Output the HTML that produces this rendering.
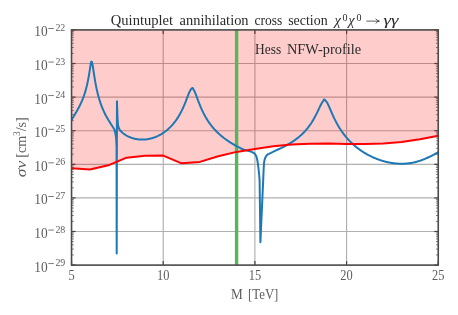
<!DOCTYPE html>
<html><head><meta charset="utf-8"><title>chart</title>
<style>
html,body{margin:0;padding:0;background:#fff;}
body{width:458px;height:315px;overflow:hidden;font-family:"Liberation Serif",serif;}
svg{display:block;will-change:transform;}
text{font-family:"Liberation Serif",serif;}
</style></head><body>
<svg width="458" height="315" viewBox="0 0 458 315">
<g stroke="#b0b0b0" stroke-width="1.15" fill="none"><line x1="163.22" y1="29.90" x2="163.22" y2="265.10"/><line x1="254.90" y1="29.90" x2="254.90" y2="265.10"/><line x1="346.57" y1="29.90" x2="346.57" y2="265.10"/><line x1="71.55" y1="231.50" x2="438.25" y2="231.50"/><line x1="71.55" y1="197.90" x2="438.25" y2="197.90"/><line x1="71.55" y1="164.30" x2="438.25" y2="164.30"/><line x1="71.55" y1="130.70" x2="438.25" y2="130.70"/><line x1="71.55" y1="97.10" x2="438.25" y2="97.10"/><line x1="71.55" y1="63.50" x2="438.25" y2="63.50"/></g>
<g stroke="#444444" stroke-width="1.2" fill="none"><line x1="71.55" y1="265.10" x2="71.55" y2="261.10"/><line x1="71.55" y1="29.90" x2="71.55" y2="33.90"/><line x1="163.22" y1="265.10" x2="163.22" y2="261.10"/><line x1="163.22" y1="29.90" x2="163.22" y2="33.90"/><line x1="254.90" y1="265.10" x2="254.90" y2="261.10"/><line x1="254.90" y1="29.90" x2="254.90" y2="33.90"/><line x1="346.57" y1="265.10" x2="346.57" y2="261.10"/><line x1="346.57" y1="29.90" x2="346.57" y2="33.90"/><line x1="438.25" y1="265.10" x2="438.25" y2="261.10"/><line x1="438.25" y1="29.90" x2="438.25" y2="33.90"/><line x1="71.55" y1="265.10" x2="75.55" y2="265.10"/><line x1="438.25" y1="265.10" x2="434.25" y2="265.10"/><line x1="71.55" y1="231.50" x2="75.55" y2="231.50"/><line x1="438.25" y1="231.50" x2="434.25" y2="231.50"/><line x1="71.55" y1="197.90" x2="75.55" y2="197.90"/><line x1="438.25" y1="197.90" x2="434.25" y2="197.90"/><line x1="71.55" y1="164.30" x2="75.55" y2="164.30"/><line x1="438.25" y1="164.30" x2="434.25" y2="164.30"/><line x1="71.55" y1="130.70" x2="75.55" y2="130.70"/><line x1="438.25" y1="130.70" x2="434.25" y2="130.70"/><line x1="71.55" y1="97.10" x2="75.55" y2="97.10"/><line x1="438.25" y1="97.10" x2="434.25" y2="97.10"/><line x1="71.55" y1="63.50" x2="75.55" y2="63.50"/><line x1="438.25" y1="63.50" x2="434.25" y2="63.50"/><line x1="71.55" y1="29.90" x2="75.55" y2="29.90"/><line x1="438.25" y1="29.90" x2="434.25" y2="29.90"/></g>
<g stroke="#4a4a4a" stroke-width="0.7" fill="none"><line x1="71.55" y1="254.99" x2="73.85" y2="254.99"/><line x1="438.25" y1="254.99" x2="435.95" y2="254.99"/><line x1="71.55" y1="249.07" x2="73.85" y2="249.07"/><line x1="438.25" y1="249.07" x2="435.95" y2="249.07"/><line x1="71.55" y1="244.87" x2="73.85" y2="244.87"/><line x1="438.25" y1="244.87" x2="435.95" y2="244.87"/><line x1="71.55" y1="241.61" x2="73.85" y2="241.61"/><line x1="438.25" y1="241.61" x2="435.95" y2="241.61"/><line x1="71.55" y1="238.95" x2="73.85" y2="238.95"/><line x1="438.25" y1="238.95" x2="435.95" y2="238.95"/><line x1="71.55" y1="236.70" x2="73.85" y2="236.70"/><line x1="438.25" y1="236.70" x2="435.95" y2="236.70"/><line x1="71.55" y1="234.76" x2="73.85" y2="234.76"/><line x1="438.25" y1="234.76" x2="435.95" y2="234.76"/><line x1="71.55" y1="233.04" x2="73.85" y2="233.04"/><line x1="438.25" y1="233.04" x2="435.95" y2="233.04"/><line x1="71.55" y1="221.39" x2="73.85" y2="221.39"/><line x1="438.25" y1="221.39" x2="435.95" y2="221.39"/><line x1="71.55" y1="215.47" x2="73.85" y2="215.47"/><line x1="438.25" y1="215.47" x2="435.95" y2="215.47"/><line x1="71.55" y1="211.27" x2="73.85" y2="211.27"/><line x1="438.25" y1="211.27" x2="435.95" y2="211.27"/><line x1="71.55" y1="208.01" x2="73.85" y2="208.01"/><line x1="438.25" y1="208.01" x2="435.95" y2="208.01"/><line x1="71.55" y1="205.35" x2="73.85" y2="205.35"/><line x1="438.25" y1="205.35" x2="435.95" y2="205.35"/><line x1="71.55" y1="203.10" x2="73.85" y2="203.10"/><line x1="438.25" y1="203.10" x2="435.95" y2="203.10"/><line x1="71.55" y1="201.16" x2="73.85" y2="201.16"/><line x1="438.25" y1="201.16" x2="435.95" y2="201.16"/><line x1="71.55" y1="199.44" x2="73.85" y2="199.44"/><line x1="438.25" y1="199.44" x2="435.95" y2="199.44"/><line x1="71.55" y1="187.79" x2="73.85" y2="187.79"/><line x1="438.25" y1="187.79" x2="435.95" y2="187.79"/><line x1="71.55" y1="181.87" x2="73.85" y2="181.87"/><line x1="438.25" y1="181.87" x2="435.95" y2="181.87"/><line x1="71.55" y1="177.67" x2="73.85" y2="177.67"/><line x1="438.25" y1="177.67" x2="435.95" y2="177.67"/><line x1="71.55" y1="174.41" x2="73.85" y2="174.41"/><line x1="438.25" y1="174.41" x2="435.95" y2="174.41"/><line x1="71.55" y1="171.75" x2="73.85" y2="171.75"/><line x1="438.25" y1="171.75" x2="435.95" y2="171.75"/><line x1="71.55" y1="169.50" x2="73.85" y2="169.50"/><line x1="438.25" y1="169.50" x2="435.95" y2="169.50"/><line x1="71.55" y1="167.56" x2="73.85" y2="167.56"/><line x1="438.25" y1="167.56" x2="435.95" y2="167.56"/><line x1="71.55" y1="165.84" x2="73.85" y2="165.84"/><line x1="438.25" y1="165.84" x2="435.95" y2="165.84"/><line x1="71.55" y1="154.19" x2="73.85" y2="154.19"/><line x1="438.25" y1="154.19" x2="435.95" y2="154.19"/><line x1="71.55" y1="148.27" x2="73.85" y2="148.27"/><line x1="438.25" y1="148.27" x2="435.95" y2="148.27"/><line x1="71.55" y1="144.07" x2="73.85" y2="144.07"/><line x1="438.25" y1="144.07" x2="435.95" y2="144.07"/><line x1="71.55" y1="140.81" x2="73.85" y2="140.81"/><line x1="438.25" y1="140.81" x2="435.95" y2="140.81"/><line x1="71.55" y1="138.15" x2="73.85" y2="138.15"/><line x1="438.25" y1="138.15" x2="435.95" y2="138.15"/><line x1="71.55" y1="135.90" x2="73.85" y2="135.90"/><line x1="438.25" y1="135.90" x2="435.95" y2="135.90"/><line x1="71.55" y1="133.96" x2="73.85" y2="133.96"/><line x1="438.25" y1="133.96" x2="435.95" y2="133.96"/><line x1="71.55" y1="132.24" x2="73.85" y2="132.24"/><line x1="438.25" y1="132.24" x2="435.95" y2="132.24"/><line x1="71.55" y1="120.59" x2="73.85" y2="120.59"/><line x1="438.25" y1="120.59" x2="435.95" y2="120.59"/><line x1="71.55" y1="114.67" x2="73.85" y2="114.67"/><line x1="438.25" y1="114.67" x2="435.95" y2="114.67"/><line x1="71.55" y1="110.47" x2="73.85" y2="110.47"/><line x1="438.25" y1="110.47" x2="435.95" y2="110.47"/><line x1="71.55" y1="107.21" x2="73.85" y2="107.21"/><line x1="438.25" y1="107.21" x2="435.95" y2="107.21"/><line x1="71.55" y1="104.55" x2="73.85" y2="104.55"/><line x1="438.25" y1="104.55" x2="435.95" y2="104.55"/><line x1="71.55" y1="102.30" x2="73.85" y2="102.30"/><line x1="438.25" y1="102.30" x2="435.95" y2="102.30"/><line x1="71.55" y1="100.36" x2="73.85" y2="100.36"/><line x1="438.25" y1="100.36" x2="435.95" y2="100.36"/><line x1="71.55" y1="98.64" x2="73.85" y2="98.64"/><line x1="438.25" y1="98.64" x2="435.95" y2="98.64"/><line x1="71.55" y1="86.99" x2="73.85" y2="86.99"/><line x1="438.25" y1="86.99" x2="435.95" y2="86.99"/><line x1="71.55" y1="81.07" x2="73.85" y2="81.07"/><line x1="438.25" y1="81.07" x2="435.95" y2="81.07"/><line x1="71.55" y1="76.87" x2="73.85" y2="76.87"/><line x1="438.25" y1="76.87" x2="435.95" y2="76.87"/><line x1="71.55" y1="73.61" x2="73.85" y2="73.61"/><line x1="438.25" y1="73.61" x2="435.95" y2="73.61"/><line x1="71.55" y1="70.95" x2="73.85" y2="70.95"/><line x1="438.25" y1="70.95" x2="435.95" y2="70.95"/><line x1="71.55" y1="68.70" x2="73.85" y2="68.70"/><line x1="438.25" y1="68.70" x2="435.95" y2="68.70"/><line x1="71.55" y1="66.76" x2="73.85" y2="66.76"/><line x1="438.25" y1="66.76" x2="435.95" y2="66.76"/><line x1="71.55" y1="65.04" x2="73.85" y2="65.04"/><line x1="438.25" y1="65.04" x2="435.95" y2="65.04"/><line x1="71.55" y1="53.39" x2="73.85" y2="53.39"/><line x1="438.25" y1="53.39" x2="435.95" y2="53.39"/><line x1="71.55" y1="47.47" x2="73.85" y2="47.47"/><line x1="438.25" y1="47.47" x2="435.95" y2="47.47"/><line x1="71.55" y1="43.27" x2="73.85" y2="43.27"/><line x1="438.25" y1="43.27" x2="435.95" y2="43.27"/><line x1="71.55" y1="40.01" x2="73.85" y2="40.01"/><line x1="438.25" y1="40.01" x2="435.95" y2="40.01"/><line x1="71.55" y1="37.35" x2="73.85" y2="37.35"/><line x1="438.25" y1="37.35" x2="435.95" y2="37.35"/><line x1="71.55" y1="35.10" x2="73.85" y2="35.10"/><line x1="438.25" y1="35.10" x2="435.95" y2="35.10"/><line x1="71.55" y1="33.16" x2="73.85" y2="33.16"/><line x1="438.25" y1="33.16" x2="435.95" y2="33.16"/><line x1="71.55" y1="31.44" x2="73.85" y2="31.44"/><line x1="438.25" y1="31.44" x2="435.95" y2="31.44"/></g>
<path d="M71.55,168.30 L89.88,169.50 L108.22,165.30 L126.55,157.70 L144.89,155.70 L163.22,155.60 L181.56,163.30 L199.89,161.90 L218.23,156.20 L236.56,151.90 L254.90,149.00 L273.24,146.30 L291.57,144.40 L309.90,143.70 L328.24,143.50 L346.57,143.90 L364.91,144.00 L383.25,143.40 L401.58,142.00 L419.91,139.30 L438.25,135.70 L438.25,29.90 L71.55,29.90 Z" fill="#ff0000" fill-opacity="0.2" stroke="none"/>
<line x1="236.6" y1="29.9" x2="236.6" y2="265.1" stroke="#5ab55a" stroke-width="3.4"/>
<path d="M71.70,119.81 L72.20,118.95 L72.70,118.10 L73.20,117.25 L73.70,116.40 L74.20,115.56 L74.70,114.71 L75.20,113.86 L75.70,113.01 L76.20,112.15 L76.70,111.28 L77.20,110.40 L77.70,109.51 L78.20,108.60 L78.70,107.67 L79.20,106.72 L79.70,105.74 L80.20,104.73 L80.70,103.69 L81.20,102.61 L81.70,101.49 L82.20,100.32 L82.70,99.10 L83.20,97.82 L83.70,96.47 L84.20,95.04 L84.70,93.53 L85.20,91.92 L85.70,90.20 L86.20,88.36 L86.70,86.37 L87.20,84.22 L87.70,81.89 L88.20,79.36 L88.70,76.62 L89.20,73.67 L89.70,70.55 L90.20,67.42 L91.15,61.75 L91.85,61.75 L92.70,65.51 L93.20,68.68 L93.70,72.09 L94.20,75.45 L94.70,78.63 L95.20,81.59 L95.70,84.34 L96.20,86.89 L96.70,89.26 L97.20,91.46 L97.70,93.52 L98.20,95.45 L98.70,97.27 L99.20,98.98 L99.70,100.60 L100.20,102.13 L100.70,103.59 L101.20,104.99 L101.70,106.32 L102.20,107.59 L102.70,108.81 L103.20,109.98 L103.70,111.10 L104.20,112.19 L104.70,113.24 L105.20,114.25 L105.70,115.22 L106.20,116.17 L106.70,117.09 L107.20,117.98 L107.70,118.85 L108.20,119.69 L108.70,120.52 L109.20,121.32 L109.70,122.12 L110.20,122.90 L110.70,123.67 L111.20,124.43 L111.70,125.20 L112.20,125.98 L112.70,126.78 L113.00,127.27 L114.30,129.20 L115.30,133.00 L116.10,137.50 L116.55,147.00 L116.70,253.50 L116.95,101.20 L117.60,120.20 L118.10,125.50 L119.00,128.60 L120.00,130.30 L121.00,131.32 L121.50,131.84 L122.00,132.32 L122.50,132.76 L123.00,133.18 L123.50,133.57 L124.00,133.94 L124.50,134.29 L125.00,134.63 L125.50,134.94 L126.00,135.25 L126.50,135.54 L127.00,135.81 L127.50,136.08 L128.00,136.33 L128.50,136.57 L129.00,136.80 L129.50,137.02 L130.00,137.23 L130.50,137.43 L131.00,137.62 L131.50,137.80 L132.00,137.97 L132.50,138.13 L133.00,138.28 L133.50,138.42 L134.00,138.56 L134.50,138.68 L135.00,138.80 L135.50,138.91 L136.00,139.01 L136.50,139.10 L137.00,139.18 L137.50,139.26 L138.00,139.33 L138.50,139.39 L139.00,139.44 L139.50,139.49 L140.00,139.52 L140.50,139.55 L141.00,139.58 L141.50,139.59 L142.00,139.60 L142.50,139.60 L143.00,139.59 L143.50,139.58 L144.00,139.55 L144.50,139.52 L145.00,139.49 L145.50,139.44 L146.00,139.39 L146.50,139.33 L147.00,139.26 L147.50,139.19 L148.00,139.11 L148.50,139.02 L149.00,138.93 L149.50,138.82 L150.00,138.71 L150.50,138.60 L151.00,138.47 L151.50,138.34 L152.00,138.20 L152.50,138.05 L153.00,137.90 L153.50,137.73 L154.00,137.56 L154.50,137.38 L155.00,137.20 L155.50,137.00 L156.00,136.80 L156.50,136.59 L157.00,136.37 L157.50,136.15 L158.00,135.91 L158.50,135.67 L159.00,135.42 L159.50,135.16 L160.00,134.89 L160.50,134.61 L161.00,134.33 L161.50,134.03 L162.00,133.72 L162.50,133.41 L163.00,133.08 L163.50,132.75 L164.00,132.41 L164.50,132.05 L165.00,131.68 L165.50,131.31 L166.00,130.92 L166.50,130.52 L167.00,130.11 L167.50,129.69 L168.00,129.26 L168.50,128.81 L169.00,128.35 L169.50,127.88 L170.00,127.39 L170.50,126.89 L171.00,126.38 L171.50,125.85 L172.00,125.30 L172.50,124.74 L173.00,124.17 L173.50,123.57 L174.00,122.96 L174.50,122.33 L175.00,121.68 L175.50,121.01 L176.00,120.32 L176.50,119.61 L177.00,118.88 L177.50,118.12 L178.00,117.34 L178.50,116.54 L179.00,115.71 L179.50,114.85 L180.00,113.96 L180.50,113.04 L181.00,112.10 L181.50,111.12 L182.00,110.11 L182.50,109.06 L183.00,107.98 L183.50,106.87 L184.00,105.72 L184.50,104.53 L185.00,103.31 L185.50,102.06 L186.00,100.78 L186.50,99.48 L187.00,98.16 L187.50,96.83 L188.00,95.52 L188.50,94.23 L189.00,93.00 L189.50,91.85 L190.00,90.81 L190.50,89.93 L191.00,89.24 L191.50,88.78 L192.05,88.05 L192.75,88.05 L193.50,89.53 L194.00,90.32 L194.50,91.29 L195.00,92.40 L195.50,93.61 L196.00,94.90 L196.50,96.23 L197.00,97.58 L197.50,98.93 L198.00,100.28 L198.50,101.61 L199.00,102.91 L199.50,104.18 L200.00,105.42 L200.50,106.63 L201.00,107.80 L201.50,108.94 L202.00,110.04 L202.50,111.11 L203.00,112.15 L203.50,113.15 L204.00,114.13 L204.50,115.07 L205.00,115.99 L205.50,116.88 L206.00,117.74 L206.50,118.58 L207.00,119.39 L207.50,120.19 L208.00,120.96 L208.50,121.71 L209.00,122.44 L209.50,123.15 L210.00,123.84 L210.50,124.52 L211.00,125.17 L211.50,125.82 L212.00,126.44 L212.50,127.05 L213.00,127.65 L213.50,128.24 L214.00,128.81 L214.50,129.36 L215.00,129.91 L215.50,130.44 L216.00,130.97 L216.50,131.48 L217.00,131.98 L217.50,132.47 L218.00,132.95 L218.50,133.42 L219.00,133.88 L219.50,134.34 L220.00,134.78 L220.50,135.22 L221.00,135.65 L221.50,136.07 L222.00,136.48 L222.50,136.89 L223.00,137.29 L223.50,137.68 L224.00,138.07 L224.50,138.44 L225.00,138.82 L225.50,139.18 L226.00,139.55 L226.50,139.90 L227.00,140.25 L227.50,140.60 L228.00,140.94 L228.50,141.27 L229.00,141.60 L229.50,141.93 L230.00,142.25 L230.50,142.57 L231.00,142.88 L231.50,143.19 L232.00,143.50 L232.50,143.80 L233.00,144.09 L233.50,144.39 L234.00,144.68 L234.50,144.97 L235.00,145.26 L235.50,145.54 L236.00,145.82 L236.50,146.10 L237.00,146.37 L237.50,146.64 L238.00,146.92 L238.50,147.19 L239.00,147.45 L239.50,147.72 L240.00,147.99 L240.50,148.25 L241.00,148.51 L244.00,149.60 L247.90,150.70 L251.00,151.60 L253.60,152.80 L255.20,154.30 L256.40,156.60 L257.20,159.50 L257.80,163.10 L258.60,169.50 L259.30,176.40 L259.60,180.00 L260.40,242.20 L263.20,180.00 L263.60,170.00 L264.00,163.10 L264.60,159.80 L265.40,157.40 L266.50,155.50 L267.90,154.20 L269.00,153.89 L269.50,153.61 L270.00,153.34 L270.50,153.08 L271.00,152.82 L271.50,152.57 L272.00,152.32 L272.50,152.07 L273.00,151.83 L273.50,151.59 L274.00,151.35 L274.50,151.12 L275.00,150.88 L275.50,150.65 L276.00,150.42 L276.50,150.19 L277.00,149.95 L277.50,149.72 L278.00,149.49 L278.50,149.25 L279.00,149.02 L279.50,148.78 L280.00,148.55 L280.50,148.31 L281.00,148.07 L281.50,147.82 L282.00,147.58 L282.50,147.33 L283.00,147.08 L283.50,146.83 L284.00,146.58 L284.50,146.32 L285.00,146.06 L285.50,145.80 L286.00,145.53 L286.50,145.26 L287.00,144.99 L287.50,144.71 L288.00,144.43 L288.50,144.14 L289.00,143.85 L289.50,143.56 L290.00,143.26 L290.50,142.96 L291.00,142.65 L291.50,142.34 L292.00,142.02 L292.50,141.70 L293.00,141.37 L293.50,141.03 L294.00,140.69 L294.50,140.34 L295.00,139.99 L295.50,139.63 L296.00,139.26 L296.50,138.89 L297.00,138.51 L297.50,138.12 L298.00,137.72 L298.50,137.31 L299.00,136.90 L299.50,136.48 L300.00,136.05 L300.50,135.61 L301.00,135.16 L301.50,134.70 L302.00,134.23 L302.50,133.75 L303.00,133.26 L303.50,132.75 L304.00,132.24 L304.50,131.71 L305.00,131.17 L305.50,130.62 L306.00,130.05 L306.50,129.47 L307.00,128.87 L307.50,128.26 L308.00,127.63 L308.50,126.98 L309.00,126.32 L309.50,125.64 L310.00,124.94 L310.50,124.22 L311.00,123.48 L311.50,122.73 L312.00,121.94 L312.50,121.14 L313.00,120.31 L313.50,119.46 L314.00,118.59 L314.50,117.69 L315.00,116.77 L315.50,115.83 L316.00,114.86 L316.50,113.86 L317.00,112.85 L317.50,111.81 L318.00,110.76 L318.50,109.70 L319.00,108.64 L319.50,107.57 L320.00,106.52 L320.50,105.49 L321.00,104.50 L321.50,103.57 L322.00,102.72 L322.50,101.97 L323.00,101.34 L323.95,99.55 L324.65,99.55 L325.50,100.74 L326.00,101.17 L326.50,101.77 L327.00,102.51 L327.50,103.37 L328.00,104.34 L328.50,105.38 L329.00,106.47 L329.50,107.61 L330.00,108.76 L330.50,109.93 L331.00,111.10 L331.50,112.26 L332.00,113.41 L332.50,114.54 L333.00,115.65 L333.50,116.74 L334.00,117.81 L334.50,118.85 L335.00,119.87 L335.50,120.86 L336.00,121.83 L336.50,122.78 L337.00,123.70 L337.50,124.60 L338.00,125.47 L338.50,126.33 L339.00,127.16 L339.50,127.97 L340.00,128.76 L340.50,129.54 L341.00,130.29 L341.50,131.03 L342.00,131.75 L342.50,132.45 L343.00,133.14 L343.50,133.81 L344.00,134.47 L344.50,135.11 L345.00,135.74 L345.50,136.36 L346.00,136.96 L346.50,137.55 L347.00,138.13 L347.50,138.69 L348.00,139.25 L348.50,139.79 L349.00,140.33 L349.50,140.85 L350.00,141.36 L350.50,141.87 L351.00,142.36 L351.50,142.84 L352.00,143.32 L352.50,143.79 L353.00,144.24 L353.50,144.69 L354.00,145.14 L354.50,145.57 L355.00,146.00 L355.50,146.42 L356.00,146.83 L356.50,147.23 L357.00,147.63 L357.50,148.02 L358.00,148.40 L358.50,148.78 L359.00,149.15 L359.50,149.52 L360.00,149.88 L360.50,150.23 L361.00,150.57 L361.50,150.92 L362.00,151.25 L362.50,151.58 L363.00,151.90 L363.50,152.22 L364.00,152.53 L364.50,152.84 L365.00,153.14 L365.50,153.44 L366.00,153.73 L366.50,154.02 L367.00,154.30 L367.50,154.58 L368.00,154.85 L368.50,155.12 L369.00,155.38 L369.50,155.64 L370.00,155.90 L370.50,156.15 L371.00,156.39 L371.50,156.63 L372.00,156.87 L372.50,157.10 L373.00,157.33 L373.50,157.55 L374.00,157.77 L374.50,157.98 L375.00,158.19 L375.50,158.40 L376.00,158.60 L376.50,158.80 L377.00,159.00 L377.50,159.19 L378.00,159.37 L378.50,159.55 L379.00,159.73 L379.50,159.91 L380.00,160.08 L380.50,160.24 L381.00,160.41 L381.50,160.56 L382.00,160.72 L382.50,160.87 L383.00,161.02 L383.50,161.16 L384.00,161.30 L384.50,161.43 L385.00,161.57 L385.50,161.69 L386.00,161.82 L386.50,161.94 L387.00,162.05 L387.50,162.17 L388.00,162.27 L388.50,162.38 L389.00,162.48 L389.50,162.58 L390.00,162.67 L390.50,162.76 L391.00,162.85 L391.50,162.93 L392.00,163.01 L392.50,163.08 L393.00,163.15 L393.50,163.22 L394.00,163.28 L394.50,163.34 L395.00,163.39 L395.50,163.44 L396.00,163.49 L396.50,163.53 L397.00,163.57 L397.50,163.61 L398.00,163.64 L398.50,163.67 L399.00,163.69 L399.50,163.71 L400.00,163.72 L400.50,163.73 L401.00,163.74 L401.50,163.74 L402.00,163.74 L402.50,163.74 L403.00,163.73 L403.50,163.71 L404.00,163.69 L404.50,163.67 L405.00,163.65 L405.50,163.61 L406.00,163.58 L406.50,163.54 L407.00,163.50 L407.50,163.45 L408.00,163.39 L408.50,163.34 L409.00,163.28 L409.50,163.21 L410.00,163.14 L410.50,163.06 L411.00,162.98 L411.50,162.90 L412.00,162.81 L412.50,162.72 L413.00,162.62 L413.50,162.52 L414.00,162.41 L414.50,162.30 L415.00,162.18 L415.50,162.06 L416.00,161.93 L416.50,161.80 L417.00,161.66 L417.50,161.52 L418.00,161.38 L418.50,161.23 L419.00,161.07 L419.50,160.91 L420.00,160.75 L420.50,160.58 L421.00,160.41 L421.50,160.23 L422.00,160.05 L422.50,159.86 L423.00,159.67 L423.50,159.47 L424.00,159.27 L424.50,159.06 L425.00,158.85 L425.50,158.64 L426.00,158.42 L426.50,158.20 L427.00,157.97 L427.50,157.74 L428.00,157.51 L428.50,157.28 L429.00,157.04 L429.50,156.79 L430.00,156.55 L430.50,156.30 L431.00,156.05 L431.50,155.80 L432.00,155.54 L432.50,155.29 L433.00,155.03 L433.50,154.77 L434.00,154.52 L434.50,154.26 L435.00,154.01 L435.50,153.75 L436.00,153.50 L436.50,153.25 L437.00,153.00 L437.50,152.76 L438.00,152.52 L438.50,152.29 L438.60,152.24" fill="none" stroke="#1f77b4" stroke-width="2.0" stroke-linejoin="round" stroke-linecap="butt"/>
<path d="M71.55,168.30 L89.88,169.50 L108.22,165.30 L126.55,157.70 L144.89,155.70 L163.22,155.60 L181.56,163.30 L199.89,161.90 L218.23,156.20 L236.56,151.90 L254.90,149.00 L273.24,146.30 L291.57,144.40 L309.90,143.70 L328.24,143.50 L346.57,143.90 L364.91,144.00 L383.25,143.40 L401.58,142.00 L419.91,139.30 L438.25,135.70" fill="none" stroke="#ff0000" stroke-width="2.0" stroke-linejoin="round" stroke-linecap="butt"/>
<rect x="71.55" y="29.9" width="366.70" height="235.20" fill="none" stroke="#4a4a4a" stroke-width="1.6"/>
<g fill="#5e5e5e" ><text x="47.6" y="271.60" text-anchor="end" font-size="14.8" textLength="13.4" lengthAdjust="spacingAndGlyphs">10</text><rect x="48.3" y="263.25" width="5.6" height="0.8"/><text x="55.4" y="266.20" font-size="11.4" textLength="9.9" lengthAdjust="spacingAndGlyphs">29</text><text x="47.6" y="238.00" text-anchor="end" font-size="14.8" textLength="13.4" lengthAdjust="spacingAndGlyphs">10</text><rect x="48.3" y="229.65" width="5.6" height="0.8"/><text x="55.4" y="232.60" font-size="11.4" textLength="9.9" lengthAdjust="spacingAndGlyphs">28</text><text x="47.6" y="204.40" text-anchor="end" font-size="14.8" textLength="13.4" lengthAdjust="spacingAndGlyphs">10</text><rect x="48.3" y="196.05" width="5.6" height="0.8"/><text x="55.4" y="199.00" font-size="11.4" textLength="9.9" lengthAdjust="spacingAndGlyphs">27</text><text x="47.6" y="170.80" text-anchor="end" font-size="14.8" textLength="13.4" lengthAdjust="spacingAndGlyphs">10</text><rect x="48.3" y="162.45" width="5.6" height="0.8"/><text x="55.4" y="165.40" font-size="11.4" textLength="9.9" lengthAdjust="spacingAndGlyphs">26</text><text x="47.6" y="137.20" text-anchor="end" font-size="14.8" textLength="13.4" lengthAdjust="spacingAndGlyphs">10</text><rect x="48.3" y="128.85" width="5.6" height="0.8"/><text x="55.4" y="131.80" font-size="11.4" textLength="9.9" lengthAdjust="spacingAndGlyphs">25</text><text x="47.6" y="103.60" text-anchor="end" font-size="14.8" textLength="13.4" lengthAdjust="spacingAndGlyphs">10</text><rect x="48.3" y="95.25" width="5.6" height="0.8"/><text x="55.4" y="98.20" font-size="11.4" textLength="9.9" lengthAdjust="spacingAndGlyphs">24</text><text x="47.6" y="70.00" text-anchor="end" font-size="14.8" textLength="13.4" lengthAdjust="spacingAndGlyphs">10</text><rect x="48.3" y="61.65" width="5.6" height="0.8"/><text x="55.4" y="64.60" font-size="11.4" textLength="9.9" lengthAdjust="spacingAndGlyphs">23</text><text x="47.6" y="36.40" text-anchor="end" font-size="14.8" textLength="13.4" lengthAdjust="spacingAndGlyphs">10</text><rect x="48.3" y="28.05" width="5.6" height="0.8"/><text x="55.4" y="31.00" font-size="11.4" textLength="9.9" lengthAdjust="spacingAndGlyphs">22</text><text x="71.55" y="280.0" text-anchor="middle" font-size="14.1" textLength="6.2" lengthAdjust="spacingAndGlyphs">5</text><text x="163.22" y="280.0" text-anchor="middle" font-size="14.1" textLength="12.4" lengthAdjust="spacingAndGlyphs">10</text><text x="254.90" y="280.0" text-anchor="middle" font-size="14.1" textLength="12.4" lengthAdjust="spacingAndGlyphs">15</text><text x="346.57" y="280.0" text-anchor="middle" font-size="14.1" textLength="12.4" lengthAdjust="spacingAndGlyphs">20</text><text x="438.25" y="280.0" text-anchor="middle" font-size="14.1" textLength="12.4" lengthAdjust="spacingAndGlyphs">25</text>
<text x="231.0" y="298.5" font-size="14.5" textLength="11.8" lengthAdjust="spacingAndGlyphs">M</text>
<text x="248.0" y="298.5" font-size="14.5" textLength="30.4" lengthAdjust="spacingAndGlyphs">[TeV]</text>
<text transform="translate(26.4,177.2) rotate(-90)" font-size="15.5" font-style="italic" textLength="16.4" lengthAdjust="spacingAndGlyphs">σv</text>
<text transform="translate(26.4,157.8) rotate(-90)" font-size="14.5" textLength="40.6" lengthAdjust="spacingAndGlyphs">[cm<tspan font-size="9.6" dy="-6.2">3</tspan><tspan dy="6.2">/s]</tspan></text>
</g>
<g fill="#2a2a2a" font-size="14.5">
<text x="110.8" y="24.9" textLength="62.3" lengthAdjust="spacingAndGlyphs">Quintuplet</text>
<text x="179.6" y="24.9" textLength="69" lengthAdjust="spacingAndGlyphs">annihilation</text>
<text x="254.4" y="24.9" textLength="27.9" lengthAdjust="spacingAndGlyphs">cross</text>
<text x="288.2" y="24.9" textLength="39.5" lengthAdjust="spacingAndGlyphs">section</text>
<text x="334.4" y="24.9" font-style="italic">χ</text><text x="342.6" y="20.9" font-size="10">0</text>
<text x="348.2" y="24.9" font-style="italic">χ</text><text x="356.4" y="20.9" font-size="10">0</text>
<path d="M366.3,21.1 H379 M375.6,18.6 Q377,20.6 379.4,21.1 Q377,21.6 375.6,23.6" stroke="#1a1a1a" stroke-width="0.7" fill="none"/>
<text x="383.6" y="24.9" font-style="italic" textLength="15" lengthAdjust="spacingAndGlyphs">γγ</text>
<text x="255" y="53.9" textLength="26.2" lengthAdjust="spacingAndGlyphs">Hess</text>
<text x="286.9" y="53.9" textLength="74.2" lengthAdjust="spacingAndGlyphs">NFW-profile</text>
</g>
</svg>
</body></html>
